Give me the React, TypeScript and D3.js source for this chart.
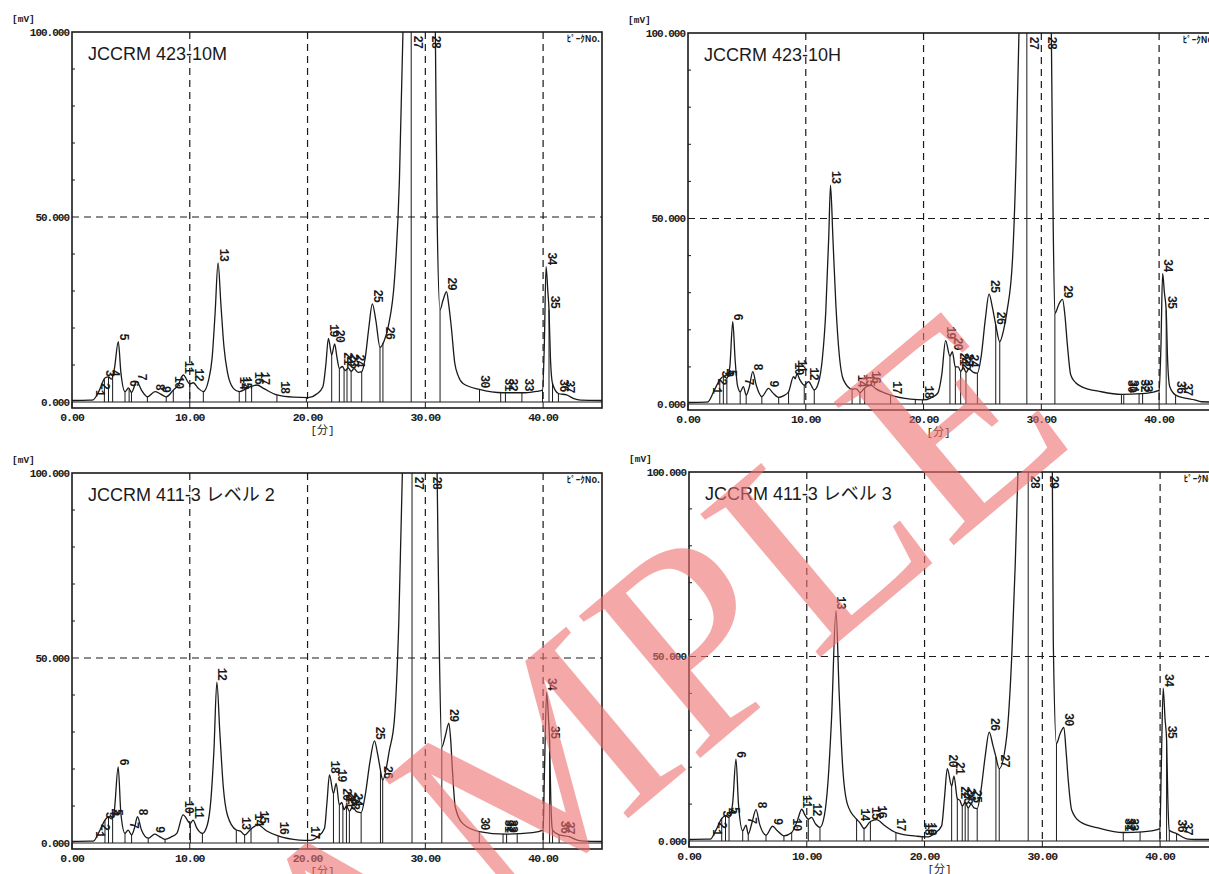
import * as d3 from "d3";

type Pt = [number, number];
type Lbl = [number, number];

// axis ticks
const xTicks = [0, 10, 20, 30, 40];
const xTickLabels = ["0.00", "10.00", "20.00", "30.00", "40.00"];
const yTicks = [0, 50, 100];
const yTickLabels = ["0.000", "50.000", "100.000"];
const yMinorTicks = [10, 20, 30, 40, 60, 70, 80, 90];

const titles = [
  "JCCRM 423-10M",
  "JCCRM 423-10H",
  "JCCRM 411-3 レベル 2",
  "JCCRM 411-3 レベル 3",
];

// chromatogram traces: [min, mV]
const p1Trace: Pt[] = [
  [0, 0.4], [1.5, 0.5], [1.8, 0.6], [2.3, 3], [2.8, 6.5], [3.1, 6.8], [3.35, 6.2], [3.6, 9], [3.93, 16.3],
  [4.15, 8], [4.5, 2.8], [4.8, 3.8], [5.05, 2.6], [5.5, 5.5], [5.9, 3.2], [6.4, 1.4], [7.05, 2.8], [7.5, 2.2],
  [8.0, 1.4], [8.6, 3.2], [9.0, 4.5], [9.45, 7.3], [10.0, 4.9], [10.3, 5.2], [10.7, 3.8], [11.15, 2.8],
  [11.6, 6], [11.9, 12], [12.15, 24], [12.4, 37.6], [12.65, 26], [12.9, 15], [13.2, 8], [13.7, 3.7],
  [14.2, 2.8], [14.7, 3.4], [15.2, 4.2], [15.7, 4.6], [16.3, 3.6], [17.4, 1.9], [18.8, 1.3], [20.06, 1.2],
  [20.8, 2.2], [21.3, 4.1], [21.55, 10], [21.77, 17.2], [22.05, 12.7], [22.3, 15.7], [22.5, 12], [22.7, 9.1],
  [22.95, 9.6], [23.2, 8.5], [23.45, 9.2], [23.7, 8.3], [23.95, 9.0], [24.3, 8.0], [24.6, 8.2], [24.9, 12],
  [25.2, 20], [25.5, 26.5], [25.8, 22], [26.15, 14.8], [26.5, 16.5], [26.85, 20.4], [27.4, 33.9], [27.8, 60],
  [28.1, 100], [28.3, 140], [30.6, 140], [30.85, 100], [31.0, 50], [31.25, 24.9], [31.5, 27.5], [31.8, 29.8],
  [32.0, 26], [32.2, 20.4], [32.5, 10.5], [32.8, 7], [33.2, 5.0], [34.6, 3.4], [36.6, 2.5], [38.5, 2.5],
  [39.5, 2.9], [39.95, 3.2], [40.1, 15], [40.25, 36.6], [40.4, 30], [40.5, 24.9], [40.62, 12], [40.8, 5.0],
  [41.3, 2.3], [42, 1.9], [42.55, 1.0], [43.2, 0.5], [45, 0.4],
];
const p1Labels: Lbl[] = [
  [1, 1.9], [2, 2.3], [3, 2.8], [4, 3.2], [5, 3.93], [6, 4.8], [7, 5.5], [8, 7.0], [9, 7.5], [10, 8.6],
  [11, 9.45], [12, 10.3], [13, 12.4], [14, 14.1], [15, 14.4], [16, 15.4], [17, 15.9], [18, 17.6],
  [19, 21.77], [20, 22.3], [21, 22.95], [22, 23.2], [23, 23.45], [24, 23.95], [25, 25.5], [26, 26.5],
  [27, 28.95], [28, 30.45], [29, 31.8], [30, 34.6], [31, 36.6], [32, 37.0], [33, 38.3], [34, 40.25],
  [35, 40.5], [36, 41.3], [37, 41.8],
];
const p1Drops = [
  2.75, 3.1, 3.45, 4.5, 4.85, 5.05, 6.4, 8.0, 8.6, 10.0, 11.15, 14.2, 14.75, 15.25, 17.4, 19.9, 22.05,
  22.7, 23.1, 23.35, 23.7, 24.6, 26.15, 26.4, 28.8, 31.25, 34.6, 36.4, 36.8, 38.2, 39.95, 40.5, 40.8, 41.3,
];

const p2Trace: Pt[] = [
  [0, 0.4], [1.5, 0.5], [1.7, 0.6], [2.2, 3.5], [2.7, 6.5], [3.0, 7.4], [3.3, 7.0], [3.55, 10], [3.8, 22.2],
  [4.0, 12], [4.2, 5], [4.43, 3.3], [4.7, 4.7], [4.94, 2.4], [5.2, 4.5], [5.5, 8.7], [5.8, 5], [6.27, 2.0],
  [6.84, 4.2], [7.2, 3], [7.7, 1.8], [8.1, 2.2], [8.54, 3.3], [8.96, 7.4], [9.1, 6.8], [9.25, 8.1], [9.5, 6.5],
  [9.87, 5.1], [10.24, 6.0], [10.72, 3.8], [11.1, 6], [11.4, 12], [11.7, 25], [11.95, 45], [12.1, 59],
  [12.3, 45], [12.55, 27], [12.85, 13], [13.2, 6.5], [13.93, 4.0], [14.3, 4.1], [14.6, 3.1], [15.0, 4.3],
  [15.5, 5.1], [16.0, 4.0], [17.2, 2.4], [18.9, 1.3], [20.0, 1.1], [20.6, 1.6], [21.2, 2.9], [21.55, 8],
  [21.87, 17.1], [22.24, 12.9], [22.44, 14.1], [22.7, 10], [22.95, 10], [23.15, 8.8], [23.4, 9.8], [23.6, 8.5],
  [23.85, 9.5], [24.2, 8.6], [24.57, 8.3], [24.9, 13], [25.25, 23], [25.56, 29.6], [25.85, 26], [26.13, 21.3],
  [26.47, 16.8], [26.8, 20], [27.1, 25.3], [27.55, 38.8], [27.85, 65], [28.1, 100], [28.3, 140], [30.6, 140],
  [30.85, 100], [31.0, 50], [31.15, 24.4], [31.5, 27], [31.8, 28.2], [32.0, 24], [32.2, 16.4], [32.5, 7.8],
  [32.9, 5.8], [33.4, 4.7], [35.1, 3.3], [36.8, 2.6], [38.5, 2.8], [39.6, 3.3], [40.0, 3.8], [40.15, 15],
  [40.3, 35.2], [40.45, 30], [40.6, 25.3], [40.72, 12], [40.9, 4.7], [41.4, 2.4], [42.3, 1.5], [43, 1.1],
  [43.6, 0.6], [45, 0.5],
];
const p2Labels: Lbl[] = [
  [1, 2.0], [2, 2.4], [3, 2.8], [4, 3.05], [5, 3.3], [6, 3.8], [7, 4.7], [8, 5.5], [9, 6.84], [10, 8.96],
  [11, 9.25], [12, 10.24], [13, 12.1], [14, 14.3], [15, 15.0], [16, 15.5], [17, 17.3], [18, 20.0],
  [19, 21.87], [20, 22.44], [21, 22.95], [22, 23.15], [23, 23.4], [24, 23.85], [25, 25.56], [26, 26.15],
  [27, 28.95], [28, 30.45], [29, 31.8], [30, 37.2], [31, 37.4], [32, 38.3], [33, 38.6], [34, 40.3],
  [35, 40.6], [36, 41.4], [37, 42.0],
];
const p2Drops = [
  2.7, 3.0, 3.3, 4.43, 4.94, 6.27, 7.7, 8.54, 9.87, 10.72, 13.93, 14.6, 15.0, 17.2, 19.3, 19.9, 22.24,
  22.7, 23.15, 23.6, 24.57, 26.13, 26.47, 28.77, 31.15, 36.8, 37.0, 38.3, 38.6, 40.0, 40.6, 41.4,
];

const p3Trace: Pt[] = [
  [0, 0.4], [1.5, 0.5], [1.8, 0.5], [2.3, 3], [2.8, 6.2], [3.1, 7.1], [3.35, 6.5], [3.6, 9], [3.92, 20.6],
  [4.15, 8], [4.5, 2.6], [4.77, 3.5], [5.06, 2.2], [5.3, 4], [5.56, 7.1], [5.9, 3.5], [6.47, 1.3], [7.03, 2.4],
  [7.4, 1.8], [7.9, 1.0], [8.4, 1.6], [8.9, 2.6], [9.43, 7.6], [10.05, 5.3], [10.28, 6.2], [10.6, 4],
  [11.07, 2.6], [11.5, 5], [11.8, 12], [12.05, 25], [12.3, 43.5], [12.55, 30], [12.85, 15], [13.2, 7.5],
  [13.95, 3.5], [14.3, 3.2], [14.66, 2.2], [15.2, 3.8], [15.8, 4.9], [16.5, 3.3], [17.5, 1.9], [19.3, 0.8],
  [20.2, 0.7], [20.9, 1.8], [21.44, 4], [21.65, 11], [21.86, 18.4], [22.2, 13.4], [22.43, 16.1], [22.7, 10.3],
  [22.9, 11], [23.1, 9], [23.3, 10], [23.55, 8.6], [23.8, 9.6], [24.2, 8.4], [24.55, 8.2], [24.9, 13],
  [25.3, 22], [25.68, 27.6], [25.95, 24], [26.19, 19.7], [26.38, 17], [26.95, 25.1], [27.37, 33.2],
  [27.75, 60], [28.05, 100], [28.3, 140], [30.8, 140], [31.0, 100], [31.2, 50], [31.4, 26], [31.7, 29],
  [32.0, 32.4], [32.15, 28], [32.3, 19.7], [32.54, 9.8], [33.16, 5.3], [34.58, 3.1], [36.8, 2.4], [39.1, 2.8],
  [40.0, 3.5], [40.12, 20], [40.3, 40.8], [40.45, 34], [40.55, 27.8], [40.65, 12], [40.8, 3.5], [41.36, 2.2],
  [42.2, 1.7], [42.9, 0.8], [43.5, 0.5], [45, 0.4],
];
const p3Labels: Lbl[] = [
  [1, 1.9], [2, 2.3], [3, 2.8], [4, 3.1], [5, 3.4], [6, 3.92], [7, 4.77], [8, 5.56], [9, 7.03], [10, 9.43],
  [11, 10.28], [12, 12.3], [13, 14.3], [14, 15.4], [15, 15.8], [16, 17.5], [17, 20.2], [18, 21.86],
  [19, 22.43], [20, 22.9], [21, 23.1], [22, 23.3], [23, 23.55], [24, 23.8], [25, 25.68], [26, 26.38],
  [27, 29.0], [28, 30.5], [29, 32.0], [30, 34.6], [31, 36.6], [32, 36.8], [33, 37.0], [34, 40.3],
  [35, 40.55], [36, 41.36], [37, 41.8],
];
const p3Drops = [
  2.8, 3.1, 3.45, 4.5, 5.06, 6.47, 7.9, 10.05, 11.07, 13.95, 14.66, 15.2, 17.5, 20.0, 22.2, 22.7, 23.0,
  23.3, 23.55, 24.55, 26.19, 26.38, 28.87, 31.4, 34.58, 36.6, 36.9, 37.8, 40.0, 40.55, 40.8, 41.36,
];

const p4Trace: Pt[] = [
  [0, 0.4], [1.5, 0.5], [1.8, 0.5], [2.3, 3], [2.78, 6.1], [3.1, 6.8], [3.4, 6.4], [3.7, 10], [3.99, 22.2],
  [4.2, 10], [4.56, 2.8], [4.84, 4.3], [5.03, 1.9], [5.35, 5], [5.69, 8.5], [6.0, 4.5], [6.54, 1.6], [7.1, 4.0],
  [7.5, 2.8], [8.06, 1.4], [8.72, 2.3], [9.2, 5.5], [9.57, 8.6], [9.85, 7], [10.13, 5.9], [10.4, 6.4],
  [10.75, 4.6], [11.12, 3.7], [11.5, 7], [11.8, 16], [12.1, 33], [12.48, 62.4], [12.75, 40], [13.05, 20],
  [13.45, 10], [14.23, 5.9], [14.5, 5], [14.86, 3.4], [15.4, 5.3], [15.93, 5.8], [16.6, 4.2], [17.57, 2.3],
  [19.33, 1.3], [20.18, 1.1], [20.9, 2.2], [21.45, 4.1], [21.7, 12], [21.93, 19.6], [22.3, 14.9], [22.5, 17.6],
  [22.78, 11.5], [23.0, 11], [23.2, 9.5], [23.45, 10.5], [23.7, 9.0], [23.95, 10], [24.2, 9], [24.47, 8.8],
  [24.8, 14], [25.15, 23], [25.49, 29.5], [25.8, 26], [26.06, 22.8], [26.34, 19.6], [26.97, 28.2],
  [27.4, 49.8], [27.7, 75], [27.93, 100], [28.2, 140], [30.7, 140], [30.85, 100], [30.93, 54.3], [31.2, 26.4],
  [31.5, 29], [31.83, 30.8], [32.0, 25], [32.2, 16.5], [32.49, 8.4], [33.2, 5.2], [34.9, 3.4], [36.87, 2.3],
  [38.5, 2.5], [39.4, 2.8], [39.98, 3.4], [40.1, 20], [40.26, 41.4], [40.42, 33], [40.55, 27.4], [40.65, 12],
  [40.78, 2.9], [41.4, 2.0], [42.25, 0.6], [43, 0.4], [45, 0.4],
];
const p4Labels: Lbl[] = [
  [1, 1.9], [2, 2.3], [3, 2.8], [4, 3.1], [5, 3.45], [6, 3.99], [7, 4.84], [8, 5.69], [9, 7.1], [10, 8.72],
  [11, 9.57], [12, 10.4], [13, 12.48], [14, 14.5], [15, 15.45], [16, 15.93], [17, 17.57], [18, 19.9],
  [19, 20.18], [20, 21.93], [21, 22.5], [22, 23.0], [23, 23.2], [24, 23.45], [25, 23.95], [26, 25.49],
  [27, 26.34], [28, 28.95], [29, 30.5], [30, 31.83], [31, 36.9], [32, 37.1], [33, 37.3], [34, 40.26],
  [35, 40.55], [36, 41.4], [37, 41.9],
];
const p4Drops = [
  2.78, 3.1, 3.4, 4.56, 5.03, 6.54, 8.06, 8.72, 10.13, 11.12, 14.23, 14.86, 15.4, 17.57, 19.8, 22.3, 22.78,
  23.2, 23.45, 23.7, 24.47, 26.06, 26.34, 28.8, 31.2, 36.87, 38.3, 39.98, 40.55, 40.78, 41.4,
];

const INK = "#1a1a1a";
const MONO = "'Liberation Mono', 'DejaVu Sans Mono', 'Noto Sans CJK JP', monospace";

type PanelProps = {
  id: number;
  x0: number;
  yTop: number;
  y0: number;
  title: string;
  trace: Pt[];
  labels: Lbl[];
  drops: number[];
};

function Panel({ id, x0, yTop, y0, title, trace, labels, drops }: PanelProps) {
  const right = x0 + 530;
  const bottom = y0 + 6;
  const x = d3.scaleLinear().domain([0, 45]).range([x0, right]);
  const y = d3.scaleLinear().domain([0, 100]).range([y0, yTop]);
  const line = d3
    .line<Pt>()
    .x((d) => x(d[0]))
    .y((d) => y(d[1]))
    .curve(d3.curveMonotoneX);

  // height of the trace at a given time (for drop lines and peak numbers)
  const valueAt = (t: number) => {
    const i = d3.bisector((d: Pt) => d[0]).right(trace, t);
    const a = trace[Math.max(0, i - 1)];
    const b = trace[Math.min(trace.length - 1, i)];
    if (b[0] === a[0]) return a[1];
    return a[1] + ((b[1] - a[1]) * (t - a[0])) / (b[0] - a[0]);
  };

  const clipId = `plot-clip-${id}`;
  return (
    <g>
      <defs>
        <clipPath id={clipId}>
          <rect x={x0} y={yTop} width={right - x0} height={bottom - yTop} />
        </clipPath>
      </defs>

      {/* dashed grid */}
      {xTicks.slice(1).map((t) => (
        <line key={`gx${t}`} x1={x(t)} x2={x(t)} y1={yTop} y2={y0} stroke={INK} strokeWidth={1.2} strokeDasharray="7,5" />
      ))}
      <line x1={x0} x2={right} y1={y(50)} y2={y(50)} stroke={INK} strokeWidth={1.2} strokeDasharray="7,5" />

      {/* frame */}
      <rect x={x0} y={yTop} width={right - x0} height={bottom - yTop} fill="none" stroke={INK} strokeWidth={1.6} />
      <line x1={x0} x2={right} y1={y0} y2={y0} stroke={INK} strokeWidth={1.2} />
      {xTicks.map((t) => (
        <line key={`tx${t}`} x1={x(t)} x2={x(t)} y1={y0} y2={bottom} stroke={INK} />
      ))}
      {yMinorTicks.map((v) => (
        <line key={`ty${v}`} x1={x0} x2={x0 + 3} y1={y(v)} y2={y(v)} stroke={INK} />
      ))}

      <g clipPath={`url(#${clipId})`}>
        {drops.map((t, i) => (
          <line key={`d${i}`} x1={x(t)} x2={x(t)} y1={y0} y2={y(valueAt(t))} stroke={INK} strokeWidth={1} />
        ))}
        <path d={line(trace) ?? ""} fill="none" stroke={INK} strokeWidth={1.3} />
      </g>

      {/* peak numbers */}
      {labels.map(([no, t]) => {
        const v = valueAt(t);
        const ly = v >= 100 ? yTop + 16 : y(v) - 2;
        const lx = x(t) + 1.5;
        return (
          <text
            key={`l${no}`}
            transform={`translate(${lx},${ly}) rotate(90)`}
            textAnchor="end"
            fontFamily={MONO}
            fontSize={12}
            fontWeight="bold"
            letterSpacing={-1}
            fill={INK}
          >
            {no}
          </text>
        );
      })}

      {/* axis texts */}
      <text x={x0 - 60} y={yTop - 10} fontFamily={MONO} fontSize={9.5} fontWeight="bold" fill={INK}>
        [mV]
      </text>
      {yTicks.map((v, i) => (
        <text key={`yl${v}`} x={x0 - 3} y={y(v) + 3.5} textAnchor="end" fontFamily={MONO} fontSize={11} letterSpacing={-1} fontWeight="bold" fill={INK}>
          {yTickLabels[i]}
        </text>
      ))}
      {xTicks.map((t, i) => (
        <text key={`xl${t}`} x={x(t)} y={y0 + 19} textAnchor="middle" fontFamily={MONO} fontSize={11.5} letterSpacing={-1} fontWeight="bold" fill={INK}>
          {xTickLabels[i]}
        </text>
      ))}
      <text x={x(20) + 15} y={y0 + 32} textAnchor="middle" fontFamily={MONO} fontSize={11} fill={INK}>
        [分]
      </text>
      <text x={right - 2} y={yTop + 10} textAnchor="end" fontFamily="'Noto Sans CJK JP', sans-serif" fontSize={9} fontWeight="bold" fill={INK}>
        ﾋﾟｰｸNo.
      </text>
      <text x={x0 + 16} y={yTop + 28} fontFamily="'Liberation Sans', Arial, 'Noto Sans CJK JP', sans-serif" fontSize={18} fill={INK}>
        {title}
      </text>
    </g>
  );
}

export default function App() {
  return (
    <svg
      width={1209}
      height={874}
      style={{ position: "absolute", left: 0, top: 0, background: "#fff" }}
    >
      <rect width={1209} height={874} fill="#fff" />
      <Panel id={1} x0={72} yTop={32} y0={402} title={titles[0]} trace={p1Trace} labels={p1Labels} drops={p1Drops} />
      <Panel id={2} x0={688} yTop={33} y0={404} title={titles[1]} trace={p2Trace} labels={p2Labels} drops={p2Drops} />
      <Panel id={3} x0={72} yTop={473} y0={843} title={titles[2]} trace={p3Trace} labels={p3Labels} drops={p3Drops} />
      <Panel id={4} x0={689} yTop={472} y0={841} title={titles[3]} trace={p4Trace} labels={p4Labels} drops={p4Drops} />
      {/* watermark */}
      <text
        x={650}
        y={800}
        textAnchor="middle"
        transform="rotate(-40 650 800)"
        fontFamily="'Liberation Serif', serif"
        fontSize={285}
        fill="#f07070"
        opacity={0.6}
      >
        SAMPLE
      </text>
    </svg>
  );
}
